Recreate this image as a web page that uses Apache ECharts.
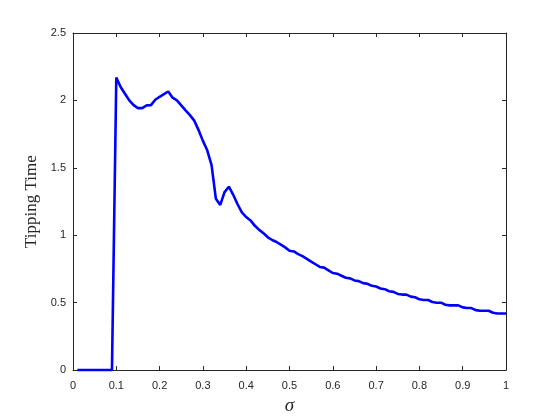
<!DOCTYPE html>
<html>
<head>
<meta charset="utf-8">
<script src="https://cdn.jsdelivr.net/npm/echarts@6/dist/echarts.min.js"></script>
<style>html,body{margin:0;padding:0;background:#fff}#c{width:560px;height:420px}</style>
</head>
<body>
<div id="c"></div>
<script>
const sigma = [0.01,0.02,0.03,0.04,0.05,0.06,0.07,0.08,0.09,0.10,
  0.11,0.12,0.13,0.14,0.15,0.16,0.17,0.18,0.19,0.20,
  0.21,0.22,0.23,0.24,0.25,0.26,0.27,0.28,0.29,0.30,
  0.31,0.32,0.33,0.34,0.35,0.36,0.37,0.38,0.39,0.40,
  0.41,0.42,0.43,0.44,0.45,0.46,0.47,0.48,0.49,0.50,
  0.51,0.52,0.53,0.54,0.55,0.56,0.57,0.58,0.59,0.60,
  0.61,0.62,0.63,0.64,0.65,0.66,0.67,0.68,0.69,0.70,
  0.71,0.72,0.73,0.74,0.75,0.76,0.77,0.78,0.79,0.80,
  0.81,0.82,0.83,0.84,0.85,0.86,0.87,0.88,0.89,0.90,
  0.91,0.92,0.93,0.94,0.95,0.96,0.97,0.98,0.99,1.00];
const tippingTime = [0,0,0,0,0,0,0,0,0,2.17,
  2.10,2.05,2.00,1.965,1.943,1.943,1.963,1.965,2.005,2.027,
  2.046,2.066,2.02,2.00,1.963,1.926,1.891,1.85,1.78,1.70,
  1.63,1.52,1.27,1.225,1.32,1.36,1.30,1.23,1.17,1.135,
  1.11,1.07,1.04,1.015,0.985,0.965,0.95,0.93,0.91,0.885,
  0.88,0.86,0.845,0.825,0.805,0.785,0.765,0.76,0.74,0.72,
  0.715,0.70,0.685,0.68,0.665,0.66,0.645,0.64,0.625,0.62,
  0.605,0.60,0.585,0.58,0.565,0.56,0.56,0.545,0.54,0.525,
  0.52,0.52,0.505,0.50,0.50,0.485,0.48,0.48,0.48,0.465,
  0.46,0.46,0.445,0.44,0.44,0.44,0.425,0.42,0.42,0.42];
const xTicks = {min:0, max:1, interval:0.1};
const yTicks = {min:0, max:2.5, interval:0.5};
const xTitle = 'σ';
const yTitle = 'Tipping Time';

const data = sigma.map((s, i) => [s, tippingTime[i]]);
const axisCol = '#262626';
const lbl = {color: axisCol, fontFamily: 'Liberation Sans, Arial, sans-serif', fontSize: 11};
const chart = echarts.init(document.getElementById('c'), null, {renderer: 'canvas'});
chart.setOption({
  animation: false,
  backgroundColor: '#fff',
  grid: {left: 73, right: 54, top: 33, bottom: 49, containLabel: false},
  xAxis: [{
    type: 'value', min: xTicks.min, max: xTicks.max, interval: xTicks.interval, position: 'bottom',
    axisLine: {show: true, onZero: false, lineStyle: {color: axisCol, width: 1}},
    axisTick: {show: true, inside: true, length: 4, lineStyle: {color: axisCol}},
    splitLine: {show: false},
    axisLabel: Object.assign({margin: 10, formatter: v => String(+v.toFixed(1))}, lbl),
    name: xTitle, nameLocation: 'middle', nameGap: 20,
    nameTextStyle: {fontFamily: 'Liberation Serif, serif', fontStyle: 'italic', fontSize: 19, color: axisCol}
  }, {
    type: 'value', min: xTicks.min, max: xTicks.max, interval: xTicks.interval, position: 'top',
    axisLine: {show: true, onZero: false, lineStyle: {color: axisCol, width: 1}},
    axisTick: {show: true, inside: true, length: 4, lineStyle: {color: axisCol}},
    splitLine: {show: false}, axisLabel: {show: false}
  }],
  yAxis: [{
    type: 'value', min: yTicks.min, max: yTicks.max, interval: yTicks.interval, position: 'left',
    axisLine: {show: true, onZero: false, lineStyle: {color: axisCol, width: 1}},
    axisTick: {show: true, inside: true, length: 4, lineStyle: {color: axisCol}},
    splitLine: {show: false},
    axisLabel: Object.assign({margin: 7, formatter: v => String(+v.toFixed(1))}, lbl),
    name: yTitle, nameLocation: 'middle', nameGap: 30, nameRotate: 90,
    nameTextStyle: {fontFamily: 'Liberation Serif, serif', fontSize: 17, color: axisCol}
  }, {
    type: 'value', min: yTicks.min, max: yTicks.max, interval: yTicks.interval, position: 'right',
    axisLine: {show: true, onZero: false, lineStyle: {color: axisCol, width: 1}},
    axisTick: {show: true, inside: true, length: 4, lineStyle: {color: axisCol}},
    splitLine: {show: false}, axisLabel: {show: false}
  }],
  series: [{
    type: 'line', data: data, xAxisIndex: 0, yAxisIndex: 0,
    showSymbol: false, symbol: 'none', smooth: false,
    lineStyle: {color: '#0000ff', width: 2.6}
  }]
});
</script>
</body>
</html>
